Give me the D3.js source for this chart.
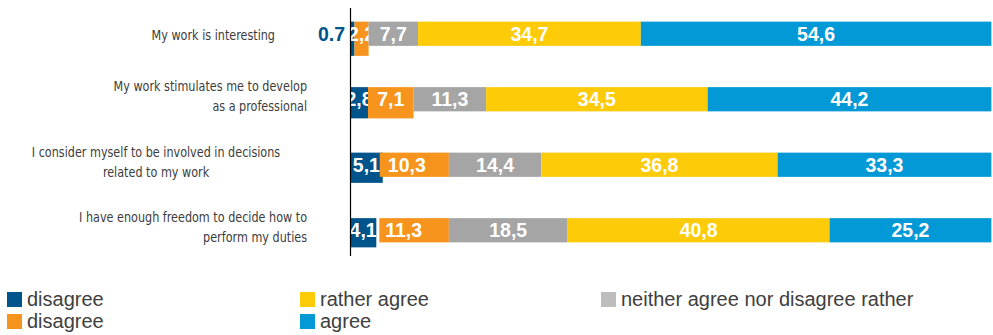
<!DOCTYPE html>
<html>
<head>
<meta charset="utf-8">
<script src="https://cdn.jsdelivr.net/npm/d3@7"></script>
<style>
  body { margin: 0; background: #fff; }
</style>
</head>
<body>
<div id="chart-area"></div>
<script>
// statements (top to bottom)
var questions = [
    ['My work is interesting'],
    ['My work stimulates me to develop', 'as a professional'],
    ['I consider myself to be involved in decisions', 'related to my work'],
    ['I have enough freedom to decide how to', 'perform my duties']
];
var answerKeys = ['disagree', 'ratherDisagree', 'neutral', 'ratherAgree', 'agree'];
var disagree       = [0.7, 2.8, 5.1, 4.1];
var ratherDisagree = [2.2, 7.1, 10.3, 11.3];
var neutral        = [7.7, 11.3, 14.4, 18.5];
var ratherAgree    = [34.7, 34.5, 36.8, 40.8];
var agree          = [54.6, 44.2, 33.3, 25.2];
var legendLabels = ['disagree', 'rather agree', 'neither agree nor disagree rather', 'disagree', 'agree'];

var colors = {
    disagree: '#00548c',
    ratherDisagree: '#f7941d',
    neutral: '#a5a5a5',
    ratherAgree: '#fecb09',
    agree: '#0399d6'
};
var legendColors = ['#00548c', '#fecb09', '#bdbdbd', '#f7941d', '#0399d6'];

var data = questions.map(function(q, i) {
    return {
        q: i,
        lines: q,
        disagree: disagree[i],
        ratherDisagree: ratherDisagree[i],
        neutral: neutral[i],
        ratherAgree: ratherAgree[i],
        agree: agree[i]
    };
});

var width = 993, height = 335;
var left = 350;

var svg = d3.select('#chart-area')
    .append('svg')
        .attr('width', width)
        .attr('height', height);

var x = d3.scaleLinear()
    .domain([0, 100])
    .range([left, 992]);

var y = d3.scaleBand()
    .domain(data.map(d => d.q))
    .range([1, 263])
    .paddingInner(0.63)
    .paddingOuter(0.315);

// the first two segments hang a bit lower than the rest of the bar in the original
var dropDown = [[10, 10], [7, 7], [6, 0], [5, 0]];
var shiftOrange = [0, 0, -3, 3];
var shiftOrangeLabel = [0, 0, -9, -9];

var stack = d3.stack().keys(answerKeys);
var series = stack(data);

svg.append('clipPath')
    .attr('id', 'plot-clip')
    .append('rect')
        .attr('x', left)
        .attr('y', 0)
        .attr('width', width - left)
        .attr('height', 270);

var plot = svg.append('g').attr('clip-path', 'url(#plot-clip)');

data.forEach(function(d, i) {
    series.forEach(function(s, k) {
        var seg = s[i];
        var x0 = x(seg[0]), x1 = x(seg[1]);
        var extra = k < 2 ? dropDown[i][k] : 0;
        if (k === 1) x0 += shiftOrange[i];
        plot.append('rect')
            .attr('x', x0)
            .attr('y', y(i))
            .attr('width', x1 - x0)
            .attr('height', y.bandwidth() + extra)
            .style('fill', colors[s.key]);

        var v = d[s.key];
        if (v >= 1) {
            var cx = (x(seg[0]) + x1) / 2 + (k === 1 ? shiftOrangeLabel[i] : 0);
            plot.append('text')
                .attr('x', cx)
                .attr('y', y(i) + y.bandwidth() / 2 + 7)
                .attr('text-anchor', 'middle')
                .attr('font-family', 'Liberation Sans, Arial, sans-serif')
                .attr('font-weight', 'bold')
                .attr('font-size', '19.5px')
                .attr('fill', '#fff')
                .text(d3.format('.1f')(v).replace('.', ','));
        }
    });
});

// small values get their label outside the bar
data.forEach(function(d, i) {
    if (d.disagree < 1) {
        svg.append('text')
            .attr('x', left - 5)
            .attr('y', y(i) + y.bandwidth() / 2 + 7)
            .attr('text-anchor', 'end')
            .attr('font-family', 'Liberation Sans, Arial, sans-serif')
            .attr('font-weight', 'bold')
            .attr('font-size', '19.5px')
            .attr('fill', colors.disagree)
            .text(d.disagree);
    }
});

// Y axis line
svg.append('line')
    .attr('x1', left + 0.5)
    .attr('x2', left + 0.5)
    .attr('y1', 8)
    .attr('y2', 256)
    .attr('stroke', '#000')
    .attr('stroke-width', 1.2);

// statement labels (condensed look: narrow font squeezed horizontally)
var labelAnchor = [['end', 275], ['end', 307], ['middle', 156], ['end', 307]];
var squeeze = 0.86;
data.forEach(function(d, i) {
    var cy = y(i) + y.bandwidth() / 2;
    var lh = 20;
    var n = d.lines.length;
    var t = svg.append('text')
        .attr('transform', 'translate(' + labelAnchor[i][1] + ',0) scale(' + squeeze + ',1)')
        .attr('text-anchor', labelAnchor[i][0])
        .attr('font-family', 'DejaVu Sans Condensed, Liberation Sans Narrow, sans-serif')
        .attr('font-size', '14.5px')
        .attr('fill', '#3c3c3c');
    d.lines.forEach(function(line, j) {
        t.append('tspan')
            .attr('x', 0)
            .attr('y', n === 1 ? cy + 6 : cy - 8 + j * lh)
            .text(line);
    });
});

// legend
var legendX = [7, 300, 601, 7, 300];
var legendY = [292, 292, 292, 314, 314];
legendLabels.forEach(function(label, i) {
    var g = svg.append('g')
        .attr('transform', 'translate(' + legendX[i] + ',' + legendY[i] + ')');
    g.append('rect')
        .attr('width', 15)
        .attr('height', 15)
        .style('fill', legendColors[i]);
    g.append('text')
        .attr('x', 20)
        .attr('y', 14)
        .attr('font-family', 'Liberation Sans, Arial, sans-serif')
        .attr('font-size', '20px')
        .attr('fill', '#404040')
        .text(label);
});
</script>
</body>
</html>
